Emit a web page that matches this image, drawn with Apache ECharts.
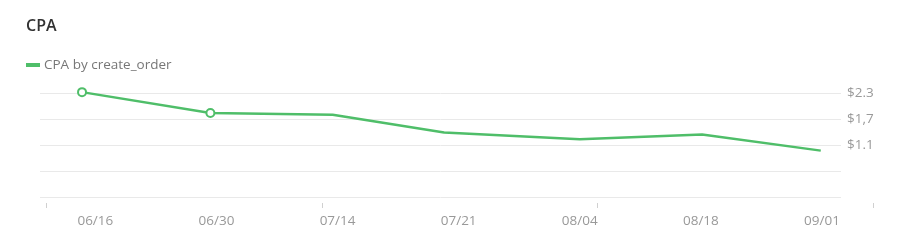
<!DOCTYPE html>
<html>
<head>
<meta charset="utf-8">
<script src="https://cdn.jsdelivr.net/npm/echarts@6/dist/echarts.min.js"></script>
<style>
html,body{margin:0;padding:0;background:#fff;}
#chart{width:900px;height:244px;}
</style>
</head>
<body>
<div id="chart"></div>
<script>
// x positions in label-index units (label k sits at x = k)
const pointX = [-0.11, 0.95, 1.96, 2.88, 4.0, 5.01, 5.99];
const cpaValues = [2.32, 1.84, 1.80, 1.39, 1.23, 1.34, 0.97];
const showMarker = [true, true, false, false, false, false, false];
const xTickValues = [0, 1, 2, 3, 4, 5, 6];
const xTickLabels = ['06/16', '06/30', '07/14', '07/21', '08/04', '08/18', '09/01'];
const yTickValues = [2.3, 1.7, 1.1];
const yTickLabels = ['$2.3', '$1,7', '$1.1'];

const chart = echarts.init(document.getElementById('chart'), null, {renderer: 'canvas'});
const green = '#4fbe69';
const fontFamily = '"Open Sans", "Noto Sans", sans-serif';

const seriesData = pointX.map((x, i) => ({
  value: [x, cpaValues[i]],
  symbol: showMarker[i] ? 'emptyCircle' : 'none'
}));

chart.setOption({
  animation: false,
  textStyle: {fontFamily: fontFamily},
  title: {
    text: 'CPA',
    left: 26,
    top: 18,
    padding: 0,
    textStyle: {fontSize: 16, fontWeight: 600, color: '#333', fontFamily: fontFamily}
  },
  legend: {
    left: 26,
    top: 58,
    padding: 0,
    icon: 'rect',
    itemWidth: 14,
    itemHeight: 4,
    itemGap: 10,
    textStyle: {fontSize: 13.5, color: '#777', fontFamily: fontFamily, padding: [0, 0, 0, -1]},
    data: ['CPA by create_order']
  },
  grid: {left: 40, right: 59, top: 93, height: 104, containLabel: false},
  xAxis: {
    type: 'value',
    min: -0.457,
    max: 6.157,
    splitLine: {show: false},
    axisLine: {show: false},
    axisTick: {show: false},
    axisLabel: {
      customValues: xTickValues,
      margin: 17,
      fontSize: 13.5,
      color: '#999',
      fontFamily: fontFamily,
      formatter: (v) => {
        const i = xTickValues.indexOf(Math.round(v));
        return i >= 0 ? xTickLabels[i] : '';
      }
    }
  },
  yAxis: {
    type: 'value',
    position: 'right',
    min: -0.1,
    max: 2.3,
    interval: 0.6,
    axisLine: {show: false},
    axisTick: {show: false},
    splitLine: {show: true, lineStyle: {color: '#e9e9e9', width: 1}},
    axisLabel: {
      customValues: yTickValues,
      margin: 6,
      fontSize: 13.5,
      color: '#999',
      fontFamily: fontFamily,
      formatter: (v) => {
        let best = -1, bd = 1e9;
        yTickValues.forEach((t, i) => { const d = Math.abs(t - v); if (d < bd) { bd = d; best = i; } });
        return bd < 0.01 ? yTickLabels[best] : '';
      }
    }
  },
  graphic: [46, 322, 597, 873].map(x => ({
    type: 'line',
    shape: {x1: x + 0.5, y1: 203, x2: x + 0.5, y2: 208},
    style: {stroke: '#d0d0d0', lineWidth: 1},
    silent: true
  })),
  series: [{
    name: 'CPA by create_order',
    type: 'line',
    data: seriesData,
    clip: false,
    symbolSize: 8,
    showAllSymbol: true,
    lineStyle: {color: green, width: 2.5},
    itemStyle: {color: green, borderWidth: 2},
    emphasis: {disabled: true}
  }]
});
</script>
</body>
</html>
